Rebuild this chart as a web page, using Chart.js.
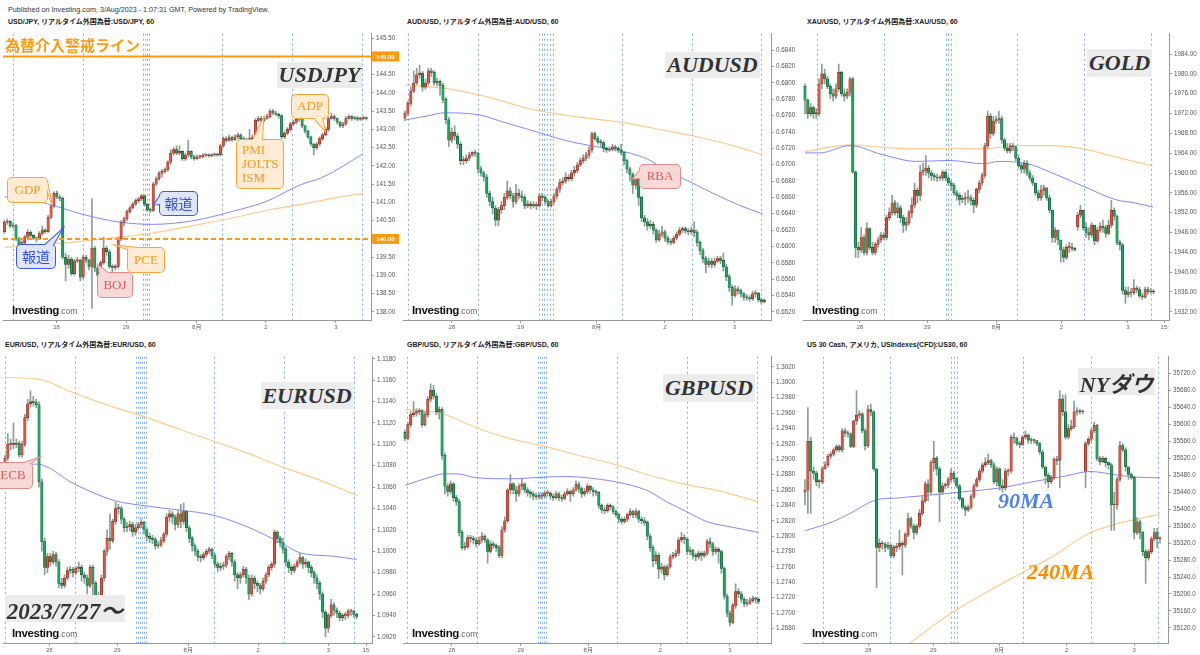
<!DOCTYPE html>
<html>
<head>
<meta charset="utf-8">
<script src="https://cdn.jsdelivr.net/npm/chart.js@4.4.0/dist/chart.umd.min.js"></script>
<style>
  body { margin: 0; width: 1200px; height: 655px; overflow: hidden; position: relative; background: #fff;
         font-family: "Liberation Sans", Arial, "Noto Sans CJK JP", sans-serif; }
  canvas { position: absolute; }
  .txt { position: absolute; white-space: nowrap; }
  .head { font-size: 7.2px; color: #333; }
  .ttl { font-size: 7px; font-weight: bold; color: #222; font-family: "Liberation Sans", "Noto Sans CJK JP", sans-serif; }
  .tag { position: absolute; background: #ececec; color: #333; font: italic bold 22px "Liberation Serif", "Noto Sans CJK JP", serif;
         display: flex; align-items: center; justify-content: center; white-space: nowrap; z-index: 3; }
  .logo { position: absolute; white-space: nowrap; z-index: 3; }
  .logo b { font: bold 11.5px "Liberation Sans", Arial, sans-serif; letter-spacing: -0.4px; color: #111; }
  .logo span { font: 8.5px "Liberation Sans", Arial, sans-serif; color: #666; }
  .big { font: italic bold 22px "Liberation Serif", serif; z-index: 3; }
</style>
</head>
<body>

<div class="txt head" style="left:8px;top:5px">Published on Investing.com, 3/Aug/2023 - 1:07:31 GMT, Powered by TradingView.</div>
<div class="txt ttl" style="left:8px;top:16px">USD/JPY, リアルタイム外国為替:USD/JPY, 60</div>
<div class="txt ttl" style="left:407px;top:16px">AUD/USD, リアルタイム外国為替:AUD/USD, 60</div>
<div class="txt ttl" style="left:807px;top:16px">XAU/USD, リアルタイム外国為替:XAU/USD, 60</div>
<div class="txt ttl" style="left:5px;top:339px">EUR/USD, リアルタイム外国為替:EUR/USD, 60</div>
<div class="txt ttl" style="left:407px;top:339px">GBP/USD, リアルタイム外国為替:GBP/USD, 60</div>
<div class="txt ttl" style="left:807px;top:339px">US 30 Cash, アメリカ, USIndexes(CFD):US30, 60</div>

<div class="tag" style="left:277px;top:62px;width:85px;height:26px">USDJPY</div>
<div class="tag" style="left:665px;top:52px;width:95px;height:26px">AUDUSD</div>
<div class="tag" style="left:1087px;top:49px;width:65px;height:28px">GOLD</div>
<div class="tag" style="left:261px;top:382px;width:92px;height:27px">EURUSD</div>
<div class="tag" style="left:663px;top:374px;width:92px;height:28px">GBPUSD</div>
<div class="tag" style="left:1078px;top:368px;width:77px;height:27px">NYダウ</div>
<div class="tag" style="left:5px;top:595px;width:120px;height:27px;font-size:23px">2023/7/27～</div>

<div class="txt" style="left:5px;top:34px;z-index:3;font:bold 15px 'Noto Sans CJK JP',sans-serif;color:#ff9a0d">為替介入警戒ライン</div>
<div class="txt big" style="left:998px;top:488px;color:#4d82e8">90MA</div>
<div class="txt big" style="left:1027px;top:559px;color:#ff8c00">240MA</div>

<div class="logo" style="left:12px;top:300px"><b>Investing</b><span>.com</span></div>
<div class="logo" style="left:412px;top:300px"><b>Investing</b><span>.com</span></div>
<div class="logo" style="left:812px;top:300px"><b>Investing</b><span>.com</span></div>
<div class="logo" style="left:12px;top:623px"><b>Investing</b><span>.com</span></div>
<div class="logo" style="left:412px;top:623px"><b>Investing</b><span>.com</span></div>
<div class="logo" style="left:812px;top:623px"><b>Investing</b><span>.com</span></div>

<script>
// ---------- USD/JPY (1h) ----------
const jpyOpen0 = 140.20;
const jpyClose = [140.46,140.48,140.35,140.38,140.00,139.82,139.90,140.05,140.18,140.10,
140.02,140.00,140.15,140.25,140.20,140.60,140.90,141.25,141.15,141.12,
139.50,139.30,139.45,139.05,139.40,139.42,138.95,139.50,139.42,139.25,
139.75,139.20,139.00,139.35,139.75,139.65,139.25,139.22,139.25,140.00,
140.45,140.55,140.75,140.85,140.95,141.05,141.10,141.18,140.95,140.80,
140.78,141.50,141.65,141.80,141.85,141.90,142.10,142.35,142.45,142.35,
142.40,142.20,142.30,142.40,142.25,142.20,142.25,142.25,142.30,142.30,
142.28,142.30,142.32,142.30,142.55,142.75,142.70,142.78,142.72,142.80,
142.85,142.75,142.72,142.70,142.75,142.78,143.25,143.30,143.25,143.30,
143.35,143.50,143.45,143.42,143.38,142.80,142.90,143.00,143.15,143.20,
143.28,143.30,143.10,142.95,142.80,142.60,142.50,142.60,142.75,142.85,
143.00,143.30,143.35,143.30,143.20,143.10,143.15,143.30,143.35,143.30,
143.32,143.28,143.30,143.32,143.30];
const jpyHigh = [140.52,140.55,140.50,140.45,140.40,140.05,139.95,140.10,140.25,140.22,
140.12,140.05,140.20,140.35,140.28,140.65,140.95,141.30,141.32,141.20,
141.15,139.60,139.55,139.50,139.45,139.50,139.45,139.55,139.55,139.45,
141.10,139.80,139.25,139.40,140.05,139.80,139.70,139.30,139.30,140.05,
140.50,140.60,140.80,140.90,141.00,141.10,141.15,141.22,141.20,140.98,
140.85,141.55,141.70,141.85,141.90,141.95,142.15,142.45,142.50,142.55,
142.55,142.42,142.35,142.70,142.42,142.30,142.30,142.30,142.33,142.33,
142.33,142.34,142.36,142.35,142.60,142.80,142.80,142.85,142.82,142.85,
142.90,142.88,142.80,142.76,143.00,142.85,143.30,143.35,143.35,143.35,
143.42,143.55,143.55,143.50,143.45,143.40,142.95,143.05,143.20,143.25,
143.32,143.35,143.32,143.12,142.98,142.82,142.62,142.65,142.80,142.90,
143.05,143.35,143.45,143.40,143.32,143.22,143.20,143.35,143.40,143.38,
143.36,143.35,143.34,143.36,143.34];
const jpyLow = [140.15,140.40,140.30,140.30,139.95,139.75,139.78,139.85,140.00,140.05,
139.98,139.92,139.98,140.10,140.15,140.18,140.55,140.85,141.10,141.05,
139.45,138.85,139.20,139.00,139.00,139.35,138.85,138.90,139.35,139.15,
138.10,139.10,138.70,138.95,139.30,139.55,139.20,138.95,139.15,139.20,
139.95,140.35,140.50,140.70,140.82,140.92,141.00,141.05,140.90,140.75,
140.72,140.75,141.45,141.60,141.70,141.80,141.85,142.05,142.30,142.30,
142.30,142.15,142.15,142.25,142.20,142.15,142.18,142.20,142.22,142.25,
142.24,142.25,142.27,142.26,142.28,142.50,142.65,142.68,142.68,142.70,
142.75,142.70,142.68,142.62,142.68,142.70,142.75,143.20,143.20,143.22,
143.28,143.32,143.40,143.38,143.30,142.75,142.75,142.85,142.95,143.10,
143.15,143.22,143.05,142.90,142.75,142.55,142.30,142.45,142.55,142.70,
142.82,142.95,143.28,143.25,143.15,143.05,143.05,143.12,143.28,143.25,
143.26,143.24,143.25,143.27,143.26];
const jpyMa90 = [[0.2,141.16],[13.9,140.98],[27,140.67],[39.6,140.46],[51,140.40],[64.7,140.50],[78.4,140.76],[89.8,141.03],[101.3,141.48],[108.1,141.66],[112.7,141.84],[118.4,142.11],[122.7,142.33]];
const jpyMa240 = [[0.2,139.77],[21.3,139.90],[39.6,140.05],[51,140.17],[67,140.40],[78.4,140.58],[89.8,140.78],[101.3,140.94],[112.7,141.12],[122.9,141.25]];
const jpyAlert = [145.00, 140.00];
const jpyTicks = [138,138.5,139,139.5,140,140.5,141,141.5,142,142.5,143,143.5,144,144.5,145,145.5];
const jpyXTicks = [17.9,41.7,65.9,89.6,113.6];
const jpyXLabels = ['28','29','8月','2','3'];
const jpySessions = [3.1,26.8,47.4,48.1,48.8,49.5,74.5,98.6,122.6];

// ---------- AUD/USD ----------
const audOpen0 = 0.6757;
const audClose = [0.6763,0.6775,0.6790,0.6800,0.6810,0.6812,0.6795,0.6800,0.6815,0.6813,
0.6800,0.6802,0.6797,0.6780,0.6755,0.6730,0.6740,0.6735,0.6725,0.6705,
0.6705,0.6708,0.6712,0.6715,0.6714,0.6695,0.6690,0.6685,0.6665,0.6655,
0.6647,0.6632,0.6645,0.6650,0.6660,0.6668,0.6662,0.6655,0.6665,0.6662,
0.6660,0.6650,0.6652,0.6650,0.6651,0.6650,0.6662,0.6660,0.6655,0.6650,
0.6655,0.6662,0.6670,0.6678,0.6680,0.6685,0.6683,0.6690,0.6693,0.6700,
0.6705,0.6708,0.6712,0.6718,0.6738,0.6732,0.6728,0.6727,0.6720,0.6718,
0.6719,0.6722,0.6720,0.6718,0.6715,0.6705,0.6695,0.6688,0.6675,0.6683,
0.6660,0.6635,0.6630,0.6625,0.6627,0.6620,0.6608,0.6615,0.6618,0.6610,
0.6606,0.6605,0.6610,0.6615,0.6620,0.6622,0.6619,0.6618,0.6620,0.6617,
0.6605,0.6595,0.6585,0.6578,0.6582,0.6578,0.6582,0.6585,0.6583,0.6575,
0.6563,0.6550,0.6540,0.6548,0.6546,0.6542,0.6538,0.6537,0.6536,0.6542,
0.6543,0.6535,0.6532,0.6534];
const audHigh = [0.6766,0.6778,0.6795,0.6815,0.6818,0.6822,0.6814,0.6805,0.6818,0.6818,
0.6815,0.6806,0.6804,0.6800,0.6782,0.6758,0.6745,0.6748,0.6738,0.6728,
0.6710,0.6712,0.6715,0.6716,0.6718,0.6715,0.6698,0.6692,0.6688,0.6668,
0.6660,0.6650,0.6648,0.6655,0.6665,0.6680,0.6672,0.6665,0.6676,0.6670,
0.6668,0.6663,0.6656,0.6655,0.6655,0.6654,0.6665,0.6665,0.6662,0.6657,
0.6658,0.6665,0.6673,0.6682,0.6684,0.6690,0.6688,0.6693,0.6698,0.6703,
0.6708,0.6712,0.6715,0.6722,0.6740,0.6740,0.6735,0.6731,0.6729,0.6722,
0.6722,0.6725,0.6724,0.6722,0.6725,0.6716,0.6707,0.6697,0.6690,0.6686,
0.6685,0.6662,0.6638,0.6634,0.6632,0.6630,0.6622,0.6620,0.6625,0.6620,
0.6613,0.6609,0.6613,0.6618,0.6623,0.6624,0.6624,0.6622,0.6624,0.6630,
0.6620,0.6607,0.6598,0.6588,0.6586,0.6585,0.6586,0.6588,0.6588,0.6592,
0.6578,0.6566,0.6553,0.6552,0.6551,0.6548,0.6544,0.6541,0.6540,0.6545,
0.6546,0.6544,0.6537,0.6536];
const audLow = [0.6754,0.6760,0.6772,0.6788,0.6798,0.6806,0.6790,0.6792,0.6798,0.6808,
0.6797,0.6796,0.6785,0.6776,0.6750,0.6722,0.6727,0.6730,0.6720,0.6700,
0.6700,0.6702,0.6705,0.6710,0.6710,0.6690,0.6686,0.6680,0.6660,0.6650,
0.6640,0.6625,0.6625,0.6640,0.6645,0.6657,0.6658,0.6648,0.6652,0.6658,
0.6655,0.6646,0.6647,0.6646,0.6647,0.6645,0.6648,0.6656,0.6652,0.6648,
0.6648,0.6652,0.6658,0.6666,0.6675,0.6677,0.6680,0.6680,0.6686,0.6690,
0.6698,0.6702,0.6705,0.6708,0.6715,0.6730,0.6725,0.6722,0.6716,0.6715,
0.6716,0.6717,0.6717,0.6715,0.6712,0.6700,0.6690,0.6680,0.6665,0.6670,
0.6650,0.6630,0.6625,0.6620,0.6622,0.6615,0.6605,0.6606,0.6612,0.6606,
0.6603,0.6602,0.6603,0.6608,0.6613,0.6617,0.6616,0.6614,0.6615,0.6612,
0.6600,0.6590,0.6580,0.6568,0.6575,0.6574,0.6575,0.6580,0.6579,0.6570,
0.6558,0.6545,0.6528,0.6538,0.6542,0.6538,0.6534,0.6534,0.6533,0.6534,
0.6538,0.6532,0.6530,0.6531];
const audMa90 = [[0,0.67547],[7.4,0.67595],[13.7,0.67635],[25.7,0.67607],[32.5,0.67535],[43.9,0.67414],[55.4,0.67293],[66.8,0.67213],[75.9,0.67152],[82.8,0.67072],[89.6,0.66931],[98.7,0.66770],[106.7,0.66629],[114.7,0.66500],[122.5,0.66399]];
const audMa240 = [[0,0.67977],[13.1,0.67937],[25.1,0.67857],[43.9,0.67675],[61.1,0.67575],[74.8,0.67514],[89.6,0.67414],[101,0.67333],[112.4,0.67233],[122.5,0.67120]];
const audTicks = [0.652,0.654,0.656,0.658,0.660,0.662,0.664,0.666,0.668,0.670,0.672,0.674,0.676,0.678,0.680,0.682,0.684];
const audXTicks = [16,39.6,65.6,89,112.8];
const audXLabels = ['28','29','8月','2','3'];
const audSessions = [1.1,25.1,45.9,46.9,47.7,48.7,49.8,50.8,74.4,98.2,121.8];

// ---------- XAU/USD ----------
const xauOpen0 = 1977.5;
const xauGapOpen = {97: 1949.2};
const xauClose = [1974.7,1972,1973.2,1972,1972,1978,1980,1979,1977.5,1976,
1975.5,1977,1980.3,1976,1975.5,1976.3,1979,1960.2,1945,1944.5,
1947,1944,1948.8,1945,1944,1945.6,1946.5,1947.5,1947,1951,
1952,1954,1952,1953,1951,1949.5,1950,1952,1953.5,1956.5,
1955.5,1960.2,1960.5,1961,1960,1959.5,1959.2,1959,1959,1960.2,
1959,1958,1957.5,1956,1955.5,1954.7,1954.8,1955,1955,1954.5,
1953.5,1956.7,1958,1959.5,1965.5,1971.5,1968,1970.5,1970.8,1971,
1966.7,1965,1964.5,1965.5,1965.3,1963,1961.5,1960.8,1962,1960,
1959,1958,1956,1955,1956.5,1957,1955,1952.5,1947,1948.5,
1946.5,1944.5,1943,1945,1945,1944.8,1944.5,1951.5,1952.5,1949,
1948,1947.5,1949.5,1946.3,1948.5,1949.3,1949,1947.8,1949.5,1952.5,
1951.3,1946,1945.5,1936.3,1935.5,1936,1935.8,1936.8,1936.5,1935.2,
1935,1936.5,1936,1936.2,1936];
const xauHigh = [1978,1975,1974,1973.5,1973,1979,1982,1981,1979.5,1978,
1977,1978,1982,1980.5,1977,1977,1979.3,1979.3,1960.5,1946,
1949,1947.5,1950,1949,1946,1946,1947,1948,1948,1951.5,
1953,1955.5,1954.5,1954,1953.5,1951.5,1951,1952.5,1955,1958,
1957,1961.5,1962,1963.5,1961.5,1960.5,1960,1959.8,1959.5,1960.5,
1960.5,1959.5,1958.5,1958,1956.5,1956,1955.5,1956,1956.5,1955.5,
1955,1957,1958.5,1960,1966,1972.5,1972,1971.5,1971.5,1972.5,
1971.5,1967,1966,1966,1966,1965.5,1963.5,1962,1962.5,1962.5,
1960.5,1959.5,1958,1956.5,1957.5,1957.5,1957,1955.5,1952.5,1949,
1948.5,1946.5,1945,1945.5,1946,1945.8,1945,1952,1953.5,1952.5,
1950,1949,1950,1949.5,1949,1950,1950.5,1949.5,1950.5,1954.5,
1953,1951.5,1946.5,1945.8,1937,1937,1936.8,1938.5,1937.2,1937,
1935.8,1937,1937,1936.8,1936.5];
const xauLow = [1972,1971,1971.5,1971,1971,1971.5,1977,1978,1977,1975,
1974.5,1975,1976.5,1975.5,1974.5,1975,1975.5,1960,1943,1943,
1944,1943.5,1943.5,1944.5,1943.5,1943.5,1945,1946,1946.5,1946.5,
1950.5,1951.5,1951.5,1951,1950,1948,1948.5,1949.5,1951,1953,
1954,1954.5,1959.5,1959.5,1959,1958.5,1958.5,1958.3,1958.5,1958.5,
1958.5,1957.5,1956.5,1955.5,1954.5,1953.5,1954,1953.5,1954,1953.5,
1952,1953,1956,1957.5,1959,1965,1967,1967.5,1970,1970,
1966,1964.5,1964,1964,1964.5,1962.5,1961,1960,1960,1959.5,
1958.5,1957.5,1955.5,1954.5,1954.5,1955.5,1954.5,1952,1946,1946,
1945.5,1942,1942,1942.5,1944,1944.3,1944.3,1948.5,1951,1948.5,
1947,1946.5,1947,1945.5,1946,1948,1948,1947,1947.5,1949,
1950.5,1945.5,1944.5,1935.5,1933.7,1935,1935,1935.5,1935.8,1934.8,
1934.5,1934.7,1935.5,1935.7,1935.6];
const xauMa90 = [[0,1964.07],[5.3,1964.07],[16,1965.53],[27.8,1963.67],[39.7,1962.35],[51.5,1962.54],[63.4,1961.88],[69.3,1962.35],[75.2,1962.21],[81.2,1961.55],[87.1,1960.22],[98.9,1957.37],[110.8,1954.58],[116.7,1954.05],[123.8,1953.12]];
const xauMa240 = [[0,1964.34],[16,1965.67],[27.8,1965.2],[39.7,1964.87],[51.5,1965.0],[63.4,1964.87],[75.2,1965.53],[87.1,1965.53],[98.9,1964.87],[110.8,1963.21],[123.8,1961.42]];
const xauTicks = [1932,1936,1940,1944,1948,1952,1956,1960,1964,1968,1972,1976,1980,1984];
const xauXTicks = [19.5,43.5,68.1,91.2,114.9,128];
const xauXLabels = ['28','29','8月','2','3','15:'];
const xauSessions = [4.4,28.1,50,51,51.9,75.6,99.3,123.2];

// ---------- EUR/USD ----------
const eurOpen0 = 1.1078;
const eurClose = [1.1087,1.1100,1.1100,1.1100,1.1101,1.1090,1.1100,1.1125,1.1138,1.1140,
1.1139,1.1137,1.1065,1.1009,1.0985,1.0995,1.0990,1.0997,1.0990,1.0970,
1.0968,1.0975,1.0982,1.0983,1.0980,1.0984,1.0985,1.0978,1.0975,1.0968,
1.0985,1.0970,1.0950,1.0958,1.0975,1.1000,1.1012,1.1010,1.1028,1.1040,
1.1040,1.1030,1.1022,1.1023,1.1025,1.1018,1.1022,1.1025,1.1027,1.1020,
1.1014,1.1012,1.1011,1.1005,1.1006,1.1010,1.1016,1.1032,1.1035,1.1032,
1.1025,1.1035,1.1028,1.1037,1.1022,1.1012,1.1005,1.1000,1.0995,1.0994,
1.0997,1.1000,1.1002,1.0996,1.0988,1.0985,1.0986,1.0987,1.0995,1.0998,
1.0990,1.0978,1.0975,1.0978,1.0983,1.0975,1.0960,1.0975,1.0970,1.0968,
1.0965,1.0972,1.0978,1.0985,1.0988,1.1018,1.1012,1.1008,1.1002,1.0990,
1.0985,1.0982,1.0986,1.0990,1.0994,1.0988,1.0990,1.0985,1.0980,1.0975,
1.0970,1.0960,1.0943,1.0928,1.0940,1.0950,1.0945,1.0942,1.0938,1.0940,
1.0940,1.0944,1.0944,1.0941,1.0939];
const eurHigh = [1.1090,1.1110,1.1105,1.1120,1.1105,1.1103,1.1103,1.1128,1.1142,1.1150,
1.1145,1.1142,1.1140,1.1068,1.1012,1.0998,1.0998,1.1000,1.0999,1.0992,
1.0975,1.0978,1.0985,1.0986,1.0985,1.0986,1.0990,1.0987,1.0980,1.0978,
1.0987,1.0987,1.0972,1.0962,1.0978,1.1002,1.1020,1.1035,1.1030,1.1046,
1.1044,1.1042,1.1032,1.1027,1.1028,1.1027,1.1025,1.1027,1.1030,1.1028,
1.1022,1.1017,1.1015,1.1013,1.1009,1.1013,1.1018,1.1035,1.1038,1.1037,
1.1034,1.1038,1.1044,1.1045,1.1038,1.1024,1.1014,1.1007,1.1002,1.0997,
1.0999,1.1002,1.1004,1.1003,1.0998,1.0990,1.0989,1.0990,1.0997,1.1000,
1.0999,1.0992,1.0980,1.0980,1.0986,1.0985,1.0978,1.0978,1.0977,1.0972,
1.0970,1.0975,1.0980,1.0987,1.0990,1.1020,1.1019,1.1014,1.1012,1.1004,
1.0992,1.0987,1.0988,1.0992,1.0998,1.0995,1.0993,1.0991,1.0987,1.0982,
1.0978,1.0972,1.0962,1.0945,1.0942,1.0955,1.0952,1.0947,1.0944,1.0942,
1.0943,1.0946,1.0946,1.0945,1.0942];
const eurLow = [1.1075,1.1085,1.1095,1.1096,1.1097,1.1088,1.1088,1.1098,1.1122,1.1135,
1.1136,1.1134,1.1060,1.1000,1.0978,1.0980,1.0986,1.0988,1.0986,1.0966,
1.0965,1.0966,1.0973,1.0979,1.0976,1.0978,1.0981,1.0972,1.0970,1.0960,
1.0966,1.0955,1.0945,1.0948,1.0955,1.0972,1.0996,1.1002,1.1008,1.1025,
1.1035,1.1026,1.1018,1.1018,1.1019,1.1014,1.1015,1.1020,1.1022,1.1016,
1.1010,1.1008,1.1007,1.1002,1.1003,1.1004,1.1008,1.1014,1.1028,1.1026,
1.1020,1.1022,1.1022,1.1025,1.1018,1.1008,1.1000,1.0996,1.0991,1.0990,
1.0992,1.0995,1.0998,1.0993,1.0985,1.0981,1.0982,1.0983,1.0985,1.0992,
1.0986,1.0972,1.0965,1.0970,1.0976,1.0970,1.0955,1.0958,1.0965,1.0962,
1.0960,1.0963,1.0970,1.0976,1.0982,1.0985,1.1008,1.1004,1.0998,1.0986,
1.0980,1.0978,1.0980,1.0985,1.0988,1.0984,1.0985,1.0980,1.0976,1.0970,
1.0965,1.0955,1.0938,1.0920,1.0924,1.0938,1.0940,1.0938,1.0935,1.0935,
1.0936,1.0938,1.0940,1.0938,1.0937];
const eurMa90 = [[0,1.10831],[5.3,1.10812],[11.2,1.10815],[24.7,1.10625],[38.2,1.10477],[47.6,1.10431],[61.7,1.10385],[73.4,1.10338],[85.2,1.10231],[98.1,1.10068],[104,1.09985],[115.7,1.09954],[124,1.09923]];
const eurMa240 = [[0,1.11625],[10,1.11615],[13.5,1.11600],[24.7,1.11477],[37,1.11360],[48.8,1.11262],[61.7,1.11139],[73.4,1.11031],[86.4,1.10908],[98.1,1.10785],[109.9,1.10677],[124,1.10523]];
const eurTicks = [1.092,1.094,1.096,1.098,1.100,1.102,1.104,1.106,1.108,1.110,1.112,1.114,1.116,1.118];
const eurXTicks = [15.6,39.6,64.6,89.3,114,127.5];
const eurXLabels = ['28','29','8月','2','3','15:'];
const eurSessions = [0,24.7,46.2,46.9,47.6,48.3,49,49.7,73.8,98.5,123.2];

// ---------- GBP/USD ----------
const gbpOpen0 = 1.2935;
const gbpClose = [1.2927,1.2945,1.2958,1.2960,1.2962,1.2963,1.2945,1.2958,1.2978,1.2990,
1.2982,1.2962,1.2965,1.2905,1.2865,1.2858,1.2868,1.2850,1.2845,1.2805,
1.2785,1.2786,1.2798,1.2797,1.2795,1.2790,1.2795,1.2800,1.2795,1.2780,
1.2790,1.2788,1.2785,1.2775,1.2808,1.2820,1.2860,1.2868,1.2860,1.2855,
1.2865,1.2868,1.2860,1.2857,1.2855,1.2852,1.2851,1.2853,1.2852,1.2856,
1.2856,1.2852,1.2850,1.2855,1.2850,1.2849,1.2855,1.2858,1.2855,1.2860,
1.2867,1.2862,1.2855,1.2858,1.2865,1.2860,1.2858,1.2857,1.2840,1.2834,
1.2833,1.2840,1.2838,1.2832,1.2828,1.2822,1.2819,1.2822,1.2828,1.2832,
1.2828,1.2832,1.2822,1.2820,1.2818,1.2800,1.2785,1.2768,1.2775,1.2757,
1.2760,1.2750,1.2760,1.2773,1.2775,1.2778,1.2795,1.2798,1.2796,1.2780,
1.2782,1.2775,1.2773,1.2778,1.2775,1.2778,1.2793,1.2790,1.2780,1.2783,
1.2780,1.2758,1.2722,1.2700,1.2688,1.2710,1.2728,1.2725,1.2718,1.2712,
1.2713,1.2716,1.2719,1.2718,1.2715];
const gbpHigh = [1.2938,1.2948,1.2962,1.2975,1.2966,1.2966,1.2965,1.2962,1.2981,1.2998,
1.2996,1.2985,1.2968,1.2967,1.2908,1.2868,1.2872,1.2870,1.2853,1.2848,
1.2808,1.2792,1.2801,1.2801,1.2800,1.2798,1.2799,1.2805,1.2802,1.2797,
1.2794,1.2793,1.2790,1.2788,1.2812,1.2825,1.2862,1.2880,1.2870,1.2865,
1.2868,1.2875,1.2869,1.2863,1.2860,1.2858,1.2856,1.2856,1.2856,1.2859,
1.2860,1.2858,1.2855,1.2858,1.2857,1.2853,1.2858,1.2862,1.2860,1.2863,
1.2872,1.2870,1.2864,1.2862,1.2868,1.2866,1.2863,1.2860,1.2858,1.2842,
1.2838,1.2842,1.2842,1.2840,1.2834,1.2830,1.2824,1.2825,1.2830,1.2836,
1.2834,1.2836,1.2834,1.2825,1.2824,1.2820,1.2803,1.2788,1.2780,1.2778,
1.2765,1.2762,1.2763,1.2776,1.2779,1.2782,1.2798,1.2805,1.2802,1.2798,
1.2786,1.2783,1.2778,1.2781,1.2780,1.2781,1.2796,1.2798,1.2792,1.2786,
1.2785,1.2782,1.2760,1.2725,1.2703,1.2713,1.2738,1.2732,1.2728,1.2720,
1.2718,1.2720,1.2722,1.2721,1.2720];
const gbpLow = [1.2924,1.2925,1.2942,1.2955,1.2956,1.2958,1.2942,1.2943,1.2955,1.2975,
1.2978,1.2958,1.2952,1.2900,1.2855,1.2852,1.2855,1.2845,1.2840,1.2800,
1.2782,1.2782,1.2784,1.2792,1.2790,1.2786,1.2788,1.2792,1.2792,1.2765,
1.2778,1.2784,1.2780,1.2772,1.2772,1.2805,1.2818,1.2855,1.2855,1.2845,
1.2852,1.2860,1.2856,1.2852,1.2850,1.2847,1.2848,1.2848,1.2848,1.2850,
1.2852,1.2848,1.2846,1.2848,1.2846,1.2845,1.2847,1.2853,1.2845,1.2852,
1.2858,1.2857,1.2850,1.2852,1.2855,1.2856,1.2852,1.2853,1.2836,1.2830,
1.2829,1.2831,1.2834,1.2829,1.2825,1.2818,1.2816,1.2817,1.2819,1.2826,
1.2824,1.2824,1.2818,1.2816,1.2814,1.2795,1.2780,1.2760,1.2764,1.2745,
1.2752,1.2743,1.2748,1.2758,1.2770,1.2772,1.2775,1.2792,1.2790,1.2776,
1.2776,1.2770,1.2768,1.2770,1.2768,1.2772,1.2775,1.2785,1.2775,1.2777,
1.2765,1.2752,1.2718,1.2695,1.2683,1.2686,1.2706,1.2720,1.2714,1.2708,
1.2709,1.2711,1.2714,1.2713,1.2712];
const gbpMa90 = [[0,1.28660],[9.9,1.28780],[13.5,1.28810],[18.1,1.28810],[25.1,1.28759],[36.8,1.28746],[48.5,1.28767],[56.7,1.28776],[63.7,1.28759],[74.3,1.28703],[84.8,1.28596],[91.8,1.28447],[98.8,1.28318],[105.8,1.28190],[115.2,1.28113],[124,1.28049]];
const gbpMa240 = [[0,1.29644],[12.3,1.29601],[25.1,1.29409],[36.8,1.29268],[48.5,1.29174],[61.4,1.29045],[74.3,1.28926],[86,1.28789],[98.8,1.28669],[109.4,1.28596],[124,1.28447]];
const gbpTicks = [1.268,1.270,1.272,1.274,1.276,1.278,1.280,1.282,1.284,1.286,1.288,1.290,1.292,1.294,1.296,1.298,1.300,1.302];
const gbpXTicks = [16.4,40.6,64.3,89.5,114];
const gbpXLabels = ['28','29','8月','2','3'];
const gbpSessions = [0.8,25.4,46.8,47.5,48.2,48.9,49.6,74.3,98.8,123.4];

// ---------- US 30 ----------
const dowOpen0 = 35440;
const dowGapOpen = {98: 35490};
const dowClose = [35445,35560,35490,35485,35465,35465,35495,35505,35525,35530,
35540,35548,35540,35585,35580,35578,35548,35608,35622,35625,
35585,35550,35635,35630,35495,35310,35320,35318,35310,35315,
35290,35310,35312,35320,35315,35340,35378,35360,35345,35360,
35390,35420,35460,35440,35510,35520,35495,35440,35455,35458,
35470,35485,35472,35455,35425,35405,35398,35405,35430,35455,
35470,35490,35505,35510,35515,35505,35465,35495,35455,35450,
35490,35490,35570,35568,35555,35553,35570,35575,35563,35562,
35562,35555,35535,35500,35480,35465,35475,35518,35515,35660,
35630,35570,35590,35595,35630,35632,35630,35630,35555,35565,
35585,35598,35520,35512,35520,35510,35505,35410,35410,35470,
35550,35540,35500,35482,35475,35345,35370,35345,35300,35285,
35300,35330,35345,35330,35330];
const dowHigh = [35470,35640,35570,35500,35490,35470,35500,35512,35530,35535,
35545,35552,35552,35590,35590,35585,35580,35610,35680,35632,
35628,35590,35645,35648,35632,35495,35330,35325,35322,35322,
35318,35315,35320,35350,35325,35345,35390,35382,35365,35365,
35400,35430,35465,35470,35515,35560,35525,35500,35462,35462,
35475,35495,35490,35475,35458,35428,35410,35410,35435,35460,
35475,35495,35510,35522,35530,35518,35510,35500,35498,35470,
35495,35495,35575,35580,35570,35560,35575,35585,35578,35568,
35566,35562,35558,35540,35500,35485,35480,35522,35525,35680,
35670,35670,35600,35610,35655,35640,35636,35634,35560,35570,
35590,35605,35600,35525,35525,35522,35512,35508,35440,35475,
35560,35555,35545,35490,35485,35478,35380,35375,35348,35305,
35305,35335,35355,35355,35335];
const dowLow = [35410,35390,35390,35470,35455,35450,35460,35495,35500,35520,
35525,35535,35535,35535,35572,35570,35545,35545,35600,35615,
35580,35540,35545,35620,35490,35215,35300,35305,35300,35305,
35285,35285,35300,35305,35245,35310,35335,35355,35330,35340,
35355,35385,35415,35420,35435,35490,35480,35370,35435,35448,
35450,35465,35465,35450,35420,35400,35385,35395,35400,35425,
35452,35465,35485,35500,35505,35498,35460,35455,35445,35440,
35445,35480,35485,35555,35550,35545,35550,35565,35555,35555,
35555,35550,35530,35495,35460,35450,35460,35470,35505,35450,
35620,35565,35565,35585,35590,35622,35625,35625,35450,35550,
35560,35580,35515,35505,35510,35500,35495,35350,35350,35400,
35465,35535,35490,35470,35470,35330,35340,35330,35290,35225,
35280,35295,35325,35310,35320];
const dowMa90 = [[0,35349],[9.9,35371],[15.7,35390],[24.4,35421],[33.2,35427],[44.8,35434],[56.5,35442],[68.1,35450],[79.7,35465],[91.4,35479],[99.5,35489],[108.8,35481],[114.7,35476],[124,35474]];
const dowMa240 = [[27.4,35029],[36.7,35084],[50.6,35153],[62.3,35200],[73.9,35243],[85.6,35285],[99.5,35344],[108.8,35365],[114.7,35375],[124,35388]];
const dowTicks = [35120,35160,35200,35240,35280,35320,35360,35400,35440,35480,35520,35560,35600,35640,35680,35720];
const dowXTicks = [22.1,44.8,67.9,91.4,115];
const dowXLabels = ['28','29','8月','2','3'];
const dowSessions = [6.4,29.7,50.9,52,53.2,76.3,99.8,123.2];

// ---------- drawing ----------
Chart.defaults.font.family = '"Liberation Sans", Arial, "Noto Sans CJK JP", sans-serif';
const UP = '#e5523f', DOWN = '#17a862', WICK = '#8d9e94';
const CALL = {
  orange: {fill: '#fdebd4', stroke: '#f6a63d', text: '#f39a22'},
  blue: {fill: '#e0e6f8', stroke: '#3a55f2', text: '#3550e8'},
  red: {fill: '#f7d9d9', stroke: '#e88a8a', text: '#e05a5a'}
};

function candles(open0, close, high, low, gaps) {
  const open = close.map((c, i) => i === 0 ? open0 : (gaps && gaps[i] !== undefined ? gaps[i] : close[i - 1]));
  return {
    wicks: close.map((c, i) => ({x: i, y: [low[i], high[i]]})),
    bodies: close.map((c, i) => ({x: i, y: [open[i], c]})),
    fill: close.map((c, i) => c >= open[i] ? UP : DOWN),
    edge: close.map((c, i) => c >= open[i] ? '#6e1d14' : '#0c4127')
  };
}

function drawCallout(ctx, chart, c) {
  const st = CALL[c.style];
  const tx = chart.scales.x.getPixelForValue(c.tip[0]);
  const ty = chart.scales.y.getPixelForValue(c.tip[1]);
  const [x, y, w, h] = c.box;
  const [ax, ay, bx, by] = c.base;
  ctx.save();
  ctx.lineWidth = 2;
  ctx.strokeStyle = st.stroke;
  ctx.fillStyle = st.fill;
  ctx.beginPath(); ctx.roundRect(x, y, w, h, 4); ctx.stroke();
  ctx.beginPath(); ctx.moveTo(ax, ay); ctx.lineTo(tx, ty); ctx.lineTo(bx, by); ctx.stroke();
  ctx.beginPath(); ctx.roundRect(x, y, w, h, 4); ctx.fill();
  ctx.beginPath(); ctx.moveTo(ax, ay); ctx.lineTo(tx, ty); ctx.lineTo(bx, by); ctx.closePath(); ctx.fill();
  ctx.fillStyle = st.text;
  ctx.font = c.font || '13px "Liberation Serif", serif';
  ctx.textBaseline = 'middle';
  const lh = 14, n = c.lines.length;
  c.lines.forEach((t, k) => {
    const yy = y + h / 2 + (k - (n - 1) / 2) * lh + 0.5;
    if (c.left) { ctx.textAlign = 'left'; ctx.fillText(t, x + c.left, yy); }
    else { ctx.textAlign = 'center'; ctx.fillText(t, x + w / 2, yy); }
  });
  ctx.restore();
}

function makePanel(p) {
  const cv = document.createElement('canvas');
  cv.width = 400; cv.height = p.h;
  cv.style.left = p.left + 'px'; cv.style.top = p.top + 'px';
  document.body.appendChild(cv);
  const cd = candles(p.open0, p.close, p.high, p.low, p.gaps);

  const deco = {
    id: 'deco',
    beforeDatasetsDraw(chart) {
      const {ctx, chartArea: a, scales: {x}} = chart;
      ctx.save();
      ctx.strokeStyle = '#7fb0f5'; ctx.lineWidth = 1; ctx.setLineDash([2, 3]);
      p.sessions.forEach(v => {
        const px = Math.round(x.getPixelForValue(v)) + 0.5;
        ctx.beginPath(); ctx.moveTo(px, a.top); ctx.lineTo(px, a.bottom); ctx.stroke();
      });
      ctx.restore();
    },
    afterDatasetsDraw(chart) {
      const {ctx, chartArea: a, scales: {y}} = chart;
      (p.alert || []).forEach((v, k) => {
        const py = y.getPixelForValue(v);
        ctx.save();
        ctx.strokeStyle = '#ff9a0d'; ctx.lineWidth = 2;
        ctx.setLineDash(k === 0 ? [] : [5, 3]);
        ctx.beginPath(); ctx.moveTo(a.left, py); ctx.lineTo(a.right, py); ctx.stroke();
        ctx.restore();
      });
      (p.callouts || []).forEach(c => drawCallout(ctx, chart, c));
    },
    afterDraw(chart) {
      const {ctx, chartArea: a, scales: {y}} = chart;
      (p.alert || []).forEach(v => {
        const py = y.getPixelForValue(v);
        ctx.save();
        ctx.fillStyle = '#ff9a0d';
        ctx.fillRect(a.right + 1, py - 5, 27, 10);
        ctx.fillStyle = '#fff';
        ctx.font = 'bold 6px "Liberation Sans", Arial';
        ctx.textAlign = 'center'; ctx.textBaseline = 'middle';
        ctx.fillText(v.toFixed(2), a.right + 14.5, py + 0.5);
        ctx.restore();
      });
    }
  };

  const maLine = (pts, color, w) => ({
    type: 'line', data: pts.map(q => ({x: q[0], y: q[1]})), borderColor: color, borderWidth: w,
    pointRadius: 0, cubicInterpolationMode: 'monotone', order: 3
  });

  new Chart(cv, {
    type: 'bar',
    data: {
      datasets: [
        maLine(p.ma90, 'rgba(105,105,255,0.8)', 1),
        maLine(p.ma240, 'rgba(255,185,100,0.75)', 1.2),
        {data: cd.wicks, backgroundColor: WICK, barThickness: 1, grouped: false, order: 2},
        {data: cd.bodies, backgroundColor: cd.fill, borderColor: cd.edge, borderWidth: 0.5,
         borderSkipped: false, barThickness: 2.4, minBarLength: 1, grouped: false, order: 1}
      ]
    },
    options: {
      responsive: false, animation: false, events: [],
      layout: {padding: {left: 3, top: 2, right: 0, bottom: 0}},
      plugins: {legend: {display: false}, tooltip: {enabled: false}},
      scales: {
        x: {
          type: 'linear', min: p.xMin, max: p.xMax, offset: false,
          grid: {drawOnChartArea: false, offset: false, tickLength: 3, color: '#999'},
          border: {color: '#999'},
          afterBuildTicks: s => { s.ticks = p.xTicks.map(v => ({value: v})); },
          afterFit: s => { s.height = p.xH; },
          ticks: {autoSkip: false, maxRotation: 0, padding: 1, color: '#666', font: {size: 6},
                  callback: (v, i) => p.xLabels[i]}
        },
        y: {
          position: 'right', min: p.yMin, max: p.yMax,
          grid: {drawOnChartArea: false, tickLength: 3, color: '#999'},
          border: {color: '#999'},
          afterBuildTicks: s => { s.ticks = p.yTicks.map(v => ({value: v})); },
          afterFit: s => { s.width = p.axisW; },
          ticks: {autoSkip: false, padding: 2, color: '#555', font: {size: 6.3},
                  callback: v => v.toFixed(p.digits)}
        }
      }
    },
    plugins: [deco]
  });
}

makePanel({
  left: 0, top: 28, h: 306, xH: 14, axisW: 29, xMin: -0.46, xMax: 125.6, yMin: 137.78, yMax: 145.62,
  open0: jpyOpen0, close: jpyClose, high: jpyHigh, low: jpyLow, ma90: jpyMa90, ma240: jpyMa240,
  yTicks: jpyTicks, digits: 2, xTicks: jpyXTicks, xLabels: jpyXLabels, sessions: jpySessions, alert: jpyAlert,
  callouts: [
    {style: 'orange', box: [292, 67, 36, 23], base: [314, 90, 322, 90], tip: [109.8, 142.97], lines: ['ADP']},
    {style: 'orange', box: [237, 112, 46, 48], base: [253, 112, 262, 112], tip: [88.7, 143.28], lines: ['PMI', 'JOLTS', 'ISM'], left: 5},
    {style: 'orange', box: [8, 150, 39, 24], base: [47, 153, 47, 161], tip: [16.2, 140.98], lines: ['GDP']},
    {style: 'blue', box: [17, 217, 38, 23], base: [45, 217, 53, 217], tip: [19.6, 140.24], lines: ['報道'], font: '14px "Noto Sans CJK JP", sans-serif'},
    {style: 'orange', box: [128, 220, 36, 24], base: [130, 222, 138, 220], tip: [39, 139.81], lines: ['PCE']},
    {style: 'red', box: [98, 245, 34, 24], base: [100, 247, 108, 245], tip: [32.2, 139.27], lines: ['BOJ']},
    {style: 'blue', box: [160, 164, 37, 23], base: [160, 168, 160, 176], tip: [51.3, 140.94], lines: ['報道'], font: '14px "Noto Sans CJK JP", sans-serif'}
  ]
});

makePanel({
  left: 400, top: 28, h: 306, xH: 14, axisW: 29, xMin: -0.68, xMax: 125.3, yMin: 0.65100, yMax: 0.68602,
  open0: audOpen0, close: audClose, high: audHigh, low: audLow, ma90: audMa90, ma240: audMa240,
  yTicks: audTicks, digits: 4, xTicks: audXTicks, xLabels: audXLabels, sessions: audSessions,
  callouts: [
    {style: 'red', box: [240, 137, 40, 23], base: [240, 142, 240, 150], tip: [78.2, 0.6683], lines: ['RBA']}
  ]
});

makePanel({
  left: 800, top: 28, h: 306, xH: 14, axisW: 31, xMin: -0.71, xMax: 129.5, yMin: 1930.35, yMax: 1988.1,
  open0: xauOpen0, gaps: xauGapOpen, close: xauClose, high: xauHigh, low: xauLow, ma90: xauMa90, ma240: xauMa240,
  yTicks: xauTicks, digits: 2, xTicks: xauXTicks, xLabels: xauXLabels, sessions: xauSessions
});

makePanel({
  left: 0, top: 351, h: 304, xH: 12, axisW: 28, xMin: -0.7, xMax: 129.4, yMin: 1.09142, yMax: 1.11819,
  open0: eurOpen0, close: eurClose, high: eurHigh, low: eurLow, ma90: eurMa90, ma240: eurMa240,
  yTicks: eurTicks, digits: 4, xTicks: eurXTicks, xLabels: eurXLabels, sessions: eurSessions,
  callouts: [
    {style: 'red', box: [-6, 112, 38, 25], base: [24, 112, 31, 112], tip: [11.4, 1.10868], lines: ['ECB']}
  ]
});

makePanel({
  left: 400, top: 351, h: 304, xH: 12, axisW: 29, xMin: -0.7, xMax: 128.4, yMin: 1.26611, yMax: 1.30332,
  open0: gbpOpen0, close: gbpClose, high: gbpHigh, low: gbpLow, ma90: gbpMa90, ma240: gbpMa240,
  yTicks: gbpTicks, digits: 4, xTicks: gbpXTicks, xLabels: gbpXLabels, sessions: gbpSessions
});

makePanel({
  left: 800, top: 351, h: 304, xH: 12, axisW: 32, xMin: -0.7, xMax: 126.8, yMin: 35084.4, yMax: 35759.6,
  open0: dowOpen0, gaps: dowGapOpen, close: dowClose, high: dowHigh, low: dowLow, ma90: dowMa90, ma240: dowMa240,
  yTicks: dowTicks, digits: 1, xTicks: dowXTicks, xLabels: dowXLabels, sessions: dowSessions
});
</script>
</body>
</html>
